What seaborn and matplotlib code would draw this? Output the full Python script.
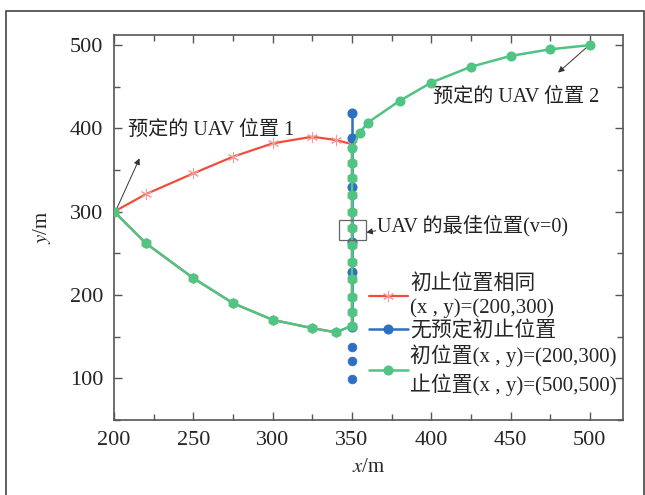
import pandas as pd
import matplotlib
matplotlib.use("Agg")
import matplotlib.pyplot as plt
import seaborn as sns
from matplotlib.patches import Rectangle
from matplotlib.ticker import MultipleLocator

# 初止位置相同 (red loop)
red_x = [200, 220, 250, 275, 300, 325, 340, 350, 350, 350, 350, 350, 350, 350, 350,
         350, 350, 350, 350, 340, 325, 300, 275, 250, 220, 200]
red_y = [300, 321, 346, 366, 382, 390, 386, 381, 359, 340, 320, 299, 280, 260, 240,
         219, 198, 179, 163, 155, 160, 170, 190, 220, 262, 300]

# 无预定初止位置 (blue, vertical)
blue_x = [350, 350, 350, 350, 350, 350]
blue_y = [418, 389, 329, 263, 228, 162]
blue_tail_x = [350, 350, 350]
blue_tail_y = [138, 121, 99]

# 初位置(200,300) -> 止位置(500,500) (green)
green_x = [200, 220, 250, 275, 300, 325, 340, 350, 350, 350, 350, 350, 350, 350, 350,
           350, 350, 350, 350, 355, 360, 380, 400, 425, 450, 475, 500]
green_y = [300, 262, 220, 190, 170, 160, 155, 163, 179, 198, 219, 240, 260, 280, 299,
           320, 340, 359, 376, 395, 407, 433, 455, 474, 487, 495, 500]

labels = ["初止位置相同\n(x , y)=(200,300)",
          "无预定初止位置",
          "初位置(x , y)=(200,300)\n止位置(x , y)=(500,500)"]

red_df = pd.DataFrame({"x": red_x, "y": red_y})
blue_df = pd.DataFrame({"x": blue_x, "y": blue_y})
blue_tail_df = pd.DataFrame({"x": blue_tail_x, "y": blue_tail_y})
green_df = pd.DataFrame({"x": green_x, "y": green_y})

sns.set_theme(style="ticks")
plt.rcParams["font.family"] = ["Liberation Serif", "Noto Sans CJK SC"]
plt.rcParams["mathtext.fontset"] = "stix"
plt.rcParams["xtick.direction"] = "in"
plt.rcParams["ytick.direction"] = "in"

RED, RED_M = "#f24c3d", "#f39a96"
BLUE = "#2d6fc0"
GREEN = "#4fc483"
GREY = "#555555"

fig = plt.figure(figsize=(6.45, 4.95), dpi=100)
ax = fig.add_axes([0.177, 0.152, 0.789, 0.777])

sns.lineplot(data=red_df, x="x", y="y", sort=False, estimator=None, ax=ax,
             color=RED, lw=1.6, marker=(6, 2, 0), markersize=8,
             markeredgecolor=RED_M, markerfacecolor=RED_M, label=labels[0], zorder=2)
sns.lineplot(data=blue_df, x="x", y="y", sort=False, estimator=None, ax=ax,
             color=BLUE, lw=1.8, marker="o", markersize=6.5,
             markeredgecolor=BLUE, label=labels[1], zorder=3)
sns.scatterplot(data=blue_tail_df, x="x", y="y", ax=ax, color=BLUE, s=40,
                edgecolor=BLUE, zorder=3)
sns.lineplot(data=green_df, x="x", y="y", sort=False, estimator=None, ax=ax,
             color=GREEN, lw=1.8, marker="o", markersize=6.5,
             markeredgecolor=GREEN, label=labels[2], zorder=4)

ax.set_xlim(200, 521)
ax.set_ylim(50, 512)
ax.xaxis.set_major_locator(MultipleLocator(50))
ax.xaxis.set_minor_locator(MultipleLocator(25))
ax.yaxis.set_major_locator(MultipleLocator(100))
ax.yaxis.set_minor_locator(MultipleLocator(50))
ax.tick_params(which="both", top=True, right=True, color=GREY, labelsize=16, pad=8)
ax.tick_params(which="major", length=6, width=1)
ax.tick_params(which="minor", length=4, width=1)
for s in ax.spines.values():
    s.set_color(GREY)
    s.set_linewidth(1.2)

ax.set_xlabel("$x$/m", fontsize=15, labelpad=6)
ax.set_ylabel("$y$/m", fontsize=15, labelpad=12)

txt_kw = dict(fontsize=14.5, color="#222222", va="center", ha="left")
ax.text(209, 397, "预定的 UAV 位置 1", **txt_kw)
ax.text(401, 437, "预定的 UAV 位置 2", **txt_kw)
ax.text(366, 283, "UAV 的最佳位置(v=0)", **txt_kw)

arrow_kw = dict(arrowstyle="-|>", color="#333333", lw=0.7, mutation_scale=9,
                shrinkA=0, shrinkB=0)
ax.annotate("", xy=(216, 364), xytext=(201, 301), arrowprops=arrow_kw)
ax.annotate("", xy=(480, 467), xytext=(499, 499), arrowprops=arrow_kw)
ax.annotate("", xy=(359, 275), xytext=(365, 277), arrowprops=arrow_kw)
ax.add_patch(Rectangle((342, 266), 17, 24, fill=False, ec="#666666", lw=0.9, zorder=5))

leg = ax.legend(loc="upper left", bbox_to_anchor=(0.5, 0.38), frameon=False, fontsize=15,
                handlelength=1.9, handletextpad=0.08, labelspacing=0.15, borderpad=0,
                borderaxespad=0)
for t in leg.get_texts():
    t.set_linespacing(1.35)

fig.patches.append(Rectangle((0.009, -0.01), 0.99, 0.988, transform=fig.transFigure,
                             fill=False, ec="#444444", lw=1.2))

fig.savefig("out.png", dpi=100)
